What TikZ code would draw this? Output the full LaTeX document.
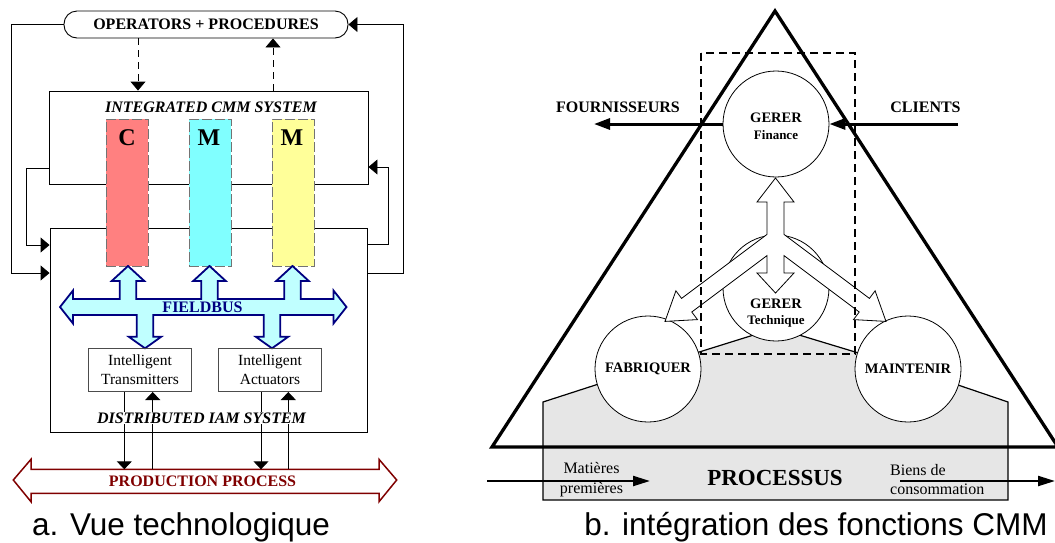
\documentclass[tikz,border=0pt]{standalone}
\usepackage{fontspec}
\setmainfont{Liberation Serif}
\newfontfamily\capfont{Liberation Sans}
\usetikzlibrary{arrows.meta,calc}
\definecolor{barC}{HTML}{FF8080}
\definecolor{barM}{HTML}{80FFFF}
\definecolor{barY}{HTML}{FFFF99}
\definecolor{busfill}{HTML}{C0FFFF}
\definecolor{busdraw}{HTML}{000080}
\definecolor{procred}{HTML}{800000}
\definecolor{procgray}{HTML}{E6E6E6}
\begin{document}
\begin{tikzpicture}[x=1pt,y=-1pt,
  ln/.style={line width=0.9pt},
  tipS/.style={-{Triangle[length=8pt,width=15pt]}},
  tipF/.style={-{Triangle[length=9pt,width=15pt]}},
  dsh/.style={dash pattern=on 7pt off 5pt},
  bar/.style={draw=black!55, dash pattern=on 10pt off 3pt, line width=0.7pt, minimum width=42pt, minimum height=147pt, inner sep=0},
  barlbl/.style={font=\fontsize{24}{26}\selectfont\bfseries},
  ibox/.style={draw=black!70, line width=0.6pt, minimum width=103.4pt, minimum height=43.4pt, inner sep=0, align=center, font=\fontsize{15.5}{19}\selectfont},
  lbl/.style={font=\fontsize{16}{19}\selectfont\bfseries, inner sep=1pt},
  circ/.style={circle, draw, fill=white, line width=0.8pt, minimum size=106pt, inner sep=0, font=\fontsize{14.5}{17}\selectfont\bfseries},
  gerer/.style={inner sep=0, font=\fontsize{14.5}{17}\selectfont\bfseries},
  subgerer/.style={inner sep=0, font=\fontsize{13}{15}\selectfont\bfseries},
  bigtip/.style={line width=3pt, -{Triangle[length=16pt,width=11pt]}},
  flowtip/.style={line width=2.2pt, -{Triangle[length=17pt,width=10pt]}},
  captionlbl/.style={font=\capfont\fontsize{31.5}{36}\selectfont, anchor=base, inner sep=0}
]
\useasboundingbox (0,0) rectangle (1055,542);

% ================= LEFT PANEL =================
\node[draw, ln, rounded corners=13pt, minimum width=284pt, minimum height=27pt, inner sep=0,
      font=\fontsize{16}{19}\selectfont\bfseries] (ops) at (206,24.5) {OPERATORS + PROCEDURES};
\node[draw, ln, minimum width=319pt, minimum height=93pt, inner sep=0] (cmm) at (208.5,137.5) {};
\node[draw, ln, minimum width=317pt, minimum height=204pt, inner sep=0] (iam) at (208.5,330) {};
\node[lbl, font=\fontsize{16}{19}\selectfont\bfseries\itshape] (cmmlbl) at (211,107) {INTEGRATED CMM SYSTEM};

% bars
\node[bar, fill=barC] (barc) at (127,192.5) {};
\node[bar, fill=barM] (barm) at (210,192.5) {};
\node[bar, fill=barY] (bary) at (293,192.5) {};
\node[barlbl] (lc) at (127,138) {C};
\node[barlbl] (lm) at (209,138) {M};
\node[barlbl] (ly) at (292,138) {M};

% feedback loops
\draw[ln, tipF] (ops.west) -- ++(-52,0) |- (iam.west |- 0,273);
\draw[ln, tipF] (cmm.west |- 0,168) -- ++(-22,0) |- (iam.west |- 0,245);
\draw[ln, tipF] (iam.east |- 0,244) -- ++(21,0) |- (cmm.east |- 0,167);
\draw[ln, tipF] (iam.east |- 0,273) -- ++(36,0) |- (ops.east);
\draw[ln, dsh, tipF] (ops.south -| 138,0) -- (cmm.north -| 138,0);
\draw[ln, dsh, tipF] (cmm.north -| 273,0) -- (ops.south -| 273,0);

% fieldbus
\draw[line width=1.8pt, draw=busdraw, fill=busfill, line join=miter]
  (60,307) -- (73,290.5) -- (73,299)
  -- (119.7,299) -- (119.7,281) -- (111.7,281) -- (128,266) -- (144.3,281) -- (136.3,281) -- (136.3,299)
  -- (201.2,299) -- (201.2,281) -- (193.2,281) -- (209.5,266) -- (225.8,281) -- (217.8,281) -- (217.8,299)
  -- (284.2,299) -- (284.2,281) -- (276.2,281) -- (292.5,266) -- (308.8,281) -- (300.8,281) -- (300.8,299)
  -- (333.5,299) -- (333.5,290.5) -- (346.5,307) -- (333.5,323.5) -- (333.5,315)
  -- (280.3,315) -- (280.3,336.7) -- (288.3,336.7) -- (272,348.3) -- (255.7,336.7) -- (263.7,336.7) -- (263.7,315)
  -- (153.3,315) -- (153.3,336.7) -- (161.3,336.7) -- (145,348.3) -- (128.7,336.7) -- (136.7,336.7) -- (136.7,315)
  -- (73,315) -- (73,323.5) -- cycle;
\node[lbl, text=busdraw] (fb) at (202.5,307) {FIELDBUS};

% intelligent devices
\node[ibox] (trans) at (140,370) {Intelligent\\Transmitters};
\node[ibox] (act) at (270,370) {Intelligent\\Actuators};

% production process
\draw[line width=1.5pt, draw=procred, fill=white, line join=miter]
  (13.3,480) -- (31,459.3) -- (31,469.3) -- (379,469.3) -- (379,459.3) -- (396.7,480)
  -- (379,501.7) -- (379,493.3) -- (31,493.3) -- (31,501.7) -- cycle;
\coordinate (pptop) at (205,469.3);
\node[lbl, text=procred] (pp) at (202.5,481) {PRODUCTION PROCESS};

\draw[ln, tipS] (trans.south -| 124.3,0) -- (pptop -| 124.3,0);
\draw[ln, tipS] (pptop -| 152.7,0) -- (trans.south -| 152.7,0);
\draw[ln, tipS] (act.south -| 261,0) -- (pptop -| 261,0);
\draw[ln, tipS] (pptop -| 288.3,0) -- (act.south -| 288.3,0);
\node[lbl, fill=white, font=\fontsize{16}{19}\selectfont\bfseries\itshape] (iamlbl) at (201.5,418) {DISTRIBUTED IAM SYSTEM};

\node[captionlbl] (capa) at (181,535) {a. Vue technologique};

% ================= RIGHT PANEL =================
\draw[line width=1.2pt, fill=procgray, line join=miter]
  (543,500) -- (543,402) -- (648,368) -- (776,328) -- (908,368) -- (1008,402) -- (1008,500) -- cycle;

\node[circ] (fab) at (648,369) {FABRIQUER};
\node[circ] (mai) at (908,369) {MAINTENIR};
\node[circ] (tech) at (776,288) {};
\node[circ] (fin) at (776,124) {};

% three-way arrow
\draw[line width=0.8pt, fill=white, line join=miter]
  (775.5,178) -- (794,202) -- (784,202) -- (784,234.4) -- (869.4,298.4) -- (875.1,290.8) -- (886,321.4)
  -- (853.5,319.6) -- (859.2,312) -- (784,255.6) -- (784,273) -- (794,273) -- (775.5,293) -- (757,273)
  -- (767,273) -- (767,255.6) -- (691.8,312) -- (697.5,319.6) -- (665,321.4) -- (675.9,290.8)
  -- (681.6,298.4) -- (767,234.4) -- (767,202) -- (757,202) -- cycle;

\node[gerer] (fing) at (776,118) {GERER};
\node[subgerer] (finf) at (776,135) {Finance};
\node[gerer] (techg) at (776,304) {GERER};
\node[subgerer] (techt) at (776,321) {Technique};

% dashed frame
\draw[line width=2pt, dash pattern=on 8pt off 5pt] (701,53) rectangle (855,354);

% triangle
\draw[line width=3.3pt, line join=miter] (775,11) -- (1058,447) -- (492,447) -- cycle;

% suppliers / clients
\coordinate (fourn) at (594,124);
\coordinate (cli) at (958,124);
\draw[bigtip] (fin.west) -- (fourn);
\draw[bigtip] (cli) -- (fin.east);
\node[lbl] (fournlbl) at (618,107) {FOURNISSEURS};
\node[lbl] (clilbl) at (925.5,107) {CLIENTS};

% process flow
\coordinate (min) at (487,481);
\coordinate (mout) at (650,481);
\coordinate (bin) at (900,481);
\coordinate (bout) at (1055,481);
\draw[flowtip] (min) -- (mout);
\draw[flowtip] (bin) -- (bout);
\node[align=center, inner sep=0, font=\fontsize{16}{19.5}\selectfont] (mat) at (591.5,479.5) {Matières\\premières};
\node[align=left, anchor=west, inner sep=0, font=\fontsize{16}{19.5}\selectfont] (biens) at (890,479.5) {Biens de\\consommation};
\node[inner sep=0, font=\fontsize{23}{26}\selectfont\bfseries] (proc) at (775,478) {PROCESSUS};

\node[captionlbl] (capb) at (816,535) {b. intégration des fonctions CMM};
\end{tikzpicture}
\end{document}
